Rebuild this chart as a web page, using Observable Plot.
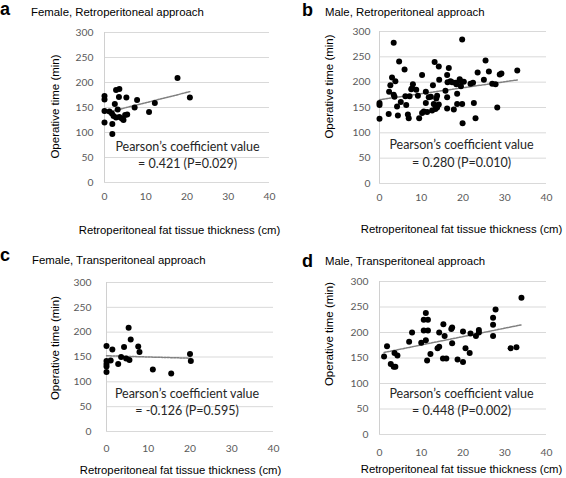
<!DOCTYPE html>
<html><head><meta charset="utf-8">
<script src="https://cdn.jsdelivr.net/npm/d3@7"></script>
<script src="https://cdn.jsdelivr.net/npm/@observablehq/plot@0.6"></script>
<style>
html,body{margin:0;padding:0;background:#fff;}
#fig{position:relative;width:566px;height:478px;overflow:hidden;background:#fff;font-family:"Liberation Sans",Arial,sans-serif;color:#000;}
.panel{position:absolute;width:283px;height:239px;}
.panel svg{overflow:visible;position:absolute;left:0;top:0;background:transparent !important;}
.letter{position:absolute;font-weight:bold;font-size:18px;line-height:1;}
.title{position:absolute;font-size:11.4px;line-height:1;white-space:nowrap;}
</style></head>
<body><div id="fig"></div>
<script>
// ---- tick values / labels ----
const xTicks = [0, 10, 20, 30, 40];
const yTicks = [0, 50, 100, 150, 200, 250, 300];
const xLabel = "Retroperitoneal fat tissue thickness (cm)";
const yLabel = "Operative time (min)";
const letters = ["a", "b", "c", "d"];
const titles = ["Female, Retroperitoneal approach", "Male, Retroperitoneal approach",
                "Female, Transperitoneal approach", "Male, Transperitoneal approach"];
const coefLine1 = "Pearson\u2019s coefficient value";
const coefLine2 = ["= 0.421 (P=0.029)", "= 0.280 (P=0.010)", "= -0.126 (P=0.595)", "= 0.448 (P=0.002)"];

// ---- panel a: Female, Retroperitoneal ----
const aX = [0,0,0,0,1.9,1.9,2.5,2.8,3.6,3.5,5.3,7.9,7.3,10.8,12.2,17.7,20.7,1.2,1.8,2.2,2.8,3.2,3.6,4.2,4.6,5.0,5.5];
const aY = [173,166,143,120,97,117,157,185,187,171,170,165,150,141,159,209,170,142,138,133,130,146,131,128,125,135,136];

// ---- panel b: Male, Retroperitoneal ----
const bX = [3.4,19.8, 4.7,13.2,25.4, 6.0,14.2,16.6,33.0,26.2, 29.2,28.8,23.5,10.2,16.2,
  3.0,3.8,14.3,17.0,19.2,25.0, 8.0,16.3,17.4,18.4,19.5,20.2,21.8,22.4,27.0,27.8,12.8,18.2,
  2.6,2.3,7.8,8.8,11.1,15.8,19.5,7.6, 3.4,3.6,6.2,7.2,9.2,11.8,12.3,13.8,13.6,16.2,18.6,
  0,0,5.1,6.4,4.2,11.1,13.0,14.2,13.4,18.6,19.8,22.6, 13.8,16.2,17.8,10.6,10.2,11.4,12.6,13.4,28.2,
  0,2.2,4.4,6.8,7.0,9.5,19.9,23.0];
const bY = [278,284, 241,240,243, 225,231,228,223,221, 217,215,219,214,214,
  209,202,205,202,206,205, 196,200,200,196,202,201,197,199,197,196,194,199,
  194,181,188,185,181,183,192,186, 175,171,172,172,173,170,171,173,168,170,177,
  159,155,161,155,152,159,157,156,154,157,157,159, 150,148,146,142,139,141,144,147,150,
  128,137,134,136,129,129,119,129];

// ---- panel c: Female, Transperitoneal ----
const cX = [5.3,5.8,0,1.4,4.2,7.6,7.9,3.5,4.7,5.5,0,0,0,0,1.0,2.8,11.1,15.5,20,20.2];
const cY = [209,185,172,165,170,171,160,150,147,144,142,136,131,120,143,136,125,117,156,142];

// ---- panel d: Male, Transperitoneal ----
const dX = [34,27.8,27.2,27.2,27.2,31.4,32.8,11.1,10.6,11.6,10.6,11.6,11.1,7.8,7.1,10,14.3,15.3,17.2,17.4,15.6,17.4,
  13.9,14.3,12.2,11.4,15.2,16,18.7,20,20,21.8,23.1,23.8,23.8,20.6,21.6,1.8,1.1,3.6,4.3,2.7,3.4,3.8];
const dY = [268,245,229,215,193,169,171,238,225,225,204,204,185,200,182,180,200,216,207,210,193,179,
  169,172,158,145,149,149,147,142,202,198,193,205,200,169,160,173,153,160,155,138,133,133];

const series = [[aX, aY], [bX, bY], [cX, cY], [dX, dY]];

// layout per panel (pixels)
const layout = [
  {left:0,   top:0,   mL:104, mR:14, mT:32, mB:57, yPad:11, xPad:10,  yl:{dx:-49, dy:-1},  xl:{dx:-7.5, dy:51}, c1:-32, c2:-15, cdx:0.5,
   letter:{left:0, top:0},     title:{left:31, top:7.4}},
  {left:283, top:0,   mL:96,  mR:20, mT:31, mB:56, yPad:9,  xPad:10.5,yl:{dx:-50, dy:-21}, xl:{dx:-1.5, dy:49}, c1:-35, c2:-17, cdx:-1.5,
   letter:{left:302, top:1.2}, title:{left:325, top:7.4}},
  {left:0,   top:239, mL:106, mR:10, mT:43, mB:47, yPad:15, xPad:13.5,yl:{dx:-51, dy:-9},  xl:{dx:-9.5, dy:42}, c1:-34, c2:-17, cdx:-3,
   letter:{left:0, top:246.4}, title:{left:32, top:255.4}},
  {left:283, top:239, mL:96,  mR:20, mT:42, mB:44, yPad:11, xPad:14.5,yl:{dx:-50, dy:-24}, xl:{dx:-1.5, dy:38}, c1:-37, c2:-20, cdx:-1.5,
   letter:{left:302, top:251.7}, title:{left:325, top:256.4}}
];

const fig = document.getElementById("fig");

series.forEach(([X, Y], k) => {
  const L = layout[k];
  const data = X.map((x, i) => ({x, y: Y[i]}));
  const chart = Plot.plot({
    width: 283, height: 239,
    marginLeft: L.mL, marginRight: L.mR, marginTop: L.mT, marginBottom: L.mB,
    style: {fontFamily: "Lato, 'Open Sans', sans-serif", background: "transparent", overflow: "visible"},
    x: {domain: [0, 40], label: null},
    y: {domain: [0, 300], label: null},
    marks: [
      Plot.gridY(yTicks, {stroke: "#d9d9d9", strokeOpacity: 1, strokeWidth: 1}),
      Plot.ruleX([0], {stroke: "#d0d0d0", strokeWidth: 1}),
      Plot.axisY(yTicks, {tickSize: 0, tickPadding: L.yPad, fontSize: 10.3, color: "#595959", label: null}),
      Plot.axisX(xTicks, {tickSize: 0, tickPadding: L.xPad, fontSize: 10.3, color: "#595959", label: null}),
      Plot.linearRegressionY(data, {x: "x", y: "y", ci: 0, stroke: "#808080", strokeWidth: 1.5, strokeDasharray: "2,1.2"}),
      Plot.dot(data, {x: "x", y: "y", r: 3, fill: "#000", stroke: "none"}),
      Plot.text([coefLine1], {frameAnchor: "bottom", textAnchor: "middle", dx: L.cdx, dy: L.c1, fontSize: 12.5, fill: "#262626", fontFamily: "Lato, sans-serif"}),
      Plot.text([coefLine2[k]], {frameAnchor: "bottom", textAnchor: "middle", dx: L.cdx, dy: L.c2, fontSize: 12.5, fill: "#262626", fontFamily: "Lato, sans-serif"}),
      Plot.text([yLabel], {frameAnchor: "left", textAnchor: "middle", rotate: -90, dx: L.yl.dx, dy: L.yl.dy, fontSize: 11.5, fill: "#000", fontFamily: "'Liberation Sans', Arial, sans-serif"}),
      Plot.text([xLabel], {frameAnchor: "bottom", textAnchor: "middle", dx: L.xl.dx, dy: L.xl.dy, fontSize: 11.3, fill: "#000", fontFamily: "'Liberation Sans', Arial, sans-serif"})
    ]
  });
  const wrap = document.createElement("div");
  wrap.className = "panel";
  wrap.style.left = L.left + "px";
  wrap.style.top = L.top + "px";
  wrap.appendChild(chart);
  fig.appendChild(wrap);

  const lt = document.createElement("div");
  lt.className = "letter";
  lt.textContent = letters[k];
  lt.style.left = L.letter.left + "px";
  lt.style.top = L.letter.top + "px";
  fig.appendChild(lt);

  const tt = document.createElement("div");
  tt.className = "title";
  tt.textContent = titles[k];
  tt.style.left = L.title.left + "px";
  tt.style.top = L.title.top + "px";
  fig.appendChild(tt);
});
</script>
</body></html>
